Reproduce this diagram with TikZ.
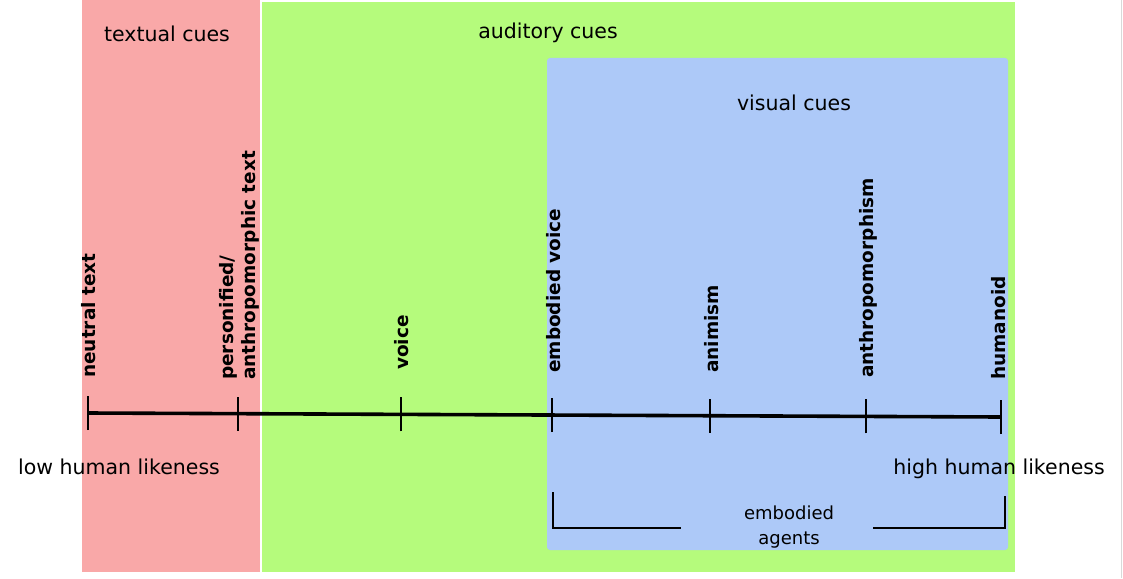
\documentclass[tikz,border=0pt]{standalone}
\usepackage{fontspec}
\setmainfont{DejaVu Sans}
\definecolor{textred}{HTML}{F9A8A8}
\definecolor{audgreen}{HTML}{B5FB7C}
\definecolor{visblue}{HTML}{ADC9F8}
\begin{document}
\begin{tikzpicture}[x=1pt,y=-1pt,
  cuelabel/.style={font=\fontsize{20.5}{24}\selectfont},
  ticklabel/.style={font=\fontsize{18.5}{22}\selectfont\bfseries,rotate=90,anchor=west,inner sep=0pt,align=left},
  axisline/.style={line width=3.6pt},
  tickline/.style={line width=2.8pt},
  bracketline/.style={line width=2.8pt}]
\useasboundingbox (0,0) rectangle (1123,578);
\fill[white] (0,0) rectangle (1123,578);
\draw[gray!30,line width=1pt] (1121,0) -- (1121,578);
% regions
\fill[textred] (82,0) rectangle (260,572);
\fill[audgreen] (262,2) rectangle (1015,572);
\fill[visblue,rounded corners=3pt] (547,58) rectangle (1008,550);
% region labels
\node[cuelabel] (textual) at (167,34) {textual cues};
\node[cuelabel] (auditory) at (548,33) {auditory cues};
\node[cuelabel] (visual) at (794,103) {visual cues};
% axis points
\coordinate (p1) at (88,413);
\coordinate (p2) at (238,413.7);
\coordinate (p3) at (401,414.4);
\coordinate (p4) at (552,415);
\coordinate (p5) at (710,415.7);
\coordinate (p6) at (866,416.4);
\coordinate (p7) at (1001,417);
\draw[axisline] (p1) -- (p7);
\foreach \p in {p1,p2,p3,p4,p5,p6,p7}
  \draw[tickline] ([yshift=-17pt]\p) -- ([yshift=17pt]\p);
% tick labels
\node[ticklabel] (l1) at (89,378) {neutral text};
\node[ticklabel] (l2) at (239,380) {personified/\\anthropomorphic text};
\node[ticklabel] (l3) at (402,370) {voice};
\node[ticklabel] (l4) at (554,373) {embodied voice};
\node[ticklabel] (l5) at (712,373) {animism};
\node[ticklabel] (l6) at (868,378) {anthropomorphism};
\node[ticklabel] (l7) at (999,380) {humanoid};
% ends
\node[cuelabel] (low) at (119,467) {low human likeness};
\node[cuelabel] (high) at (999,469) {high human likeness};
% bracket
\coordinate (b1) at (553,492);
\coordinate (b2) at (553,528);
\coordinate (b3) at (681,528);
\coordinate (b4) at (873,528);
\coordinate (b5) at (1005,528);
\coordinate (b6) at (1005,496);
\draw[bracketline] (b1) -- (b2) -- (b3);
\draw[bracketline] (b4) -- (b5) -- (b6);
\node[font=\fontsize{18}{25}\selectfont,align=center] (emb) at (789,527) {embodied\\agents};
\end{tikzpicture}
\end{document}
